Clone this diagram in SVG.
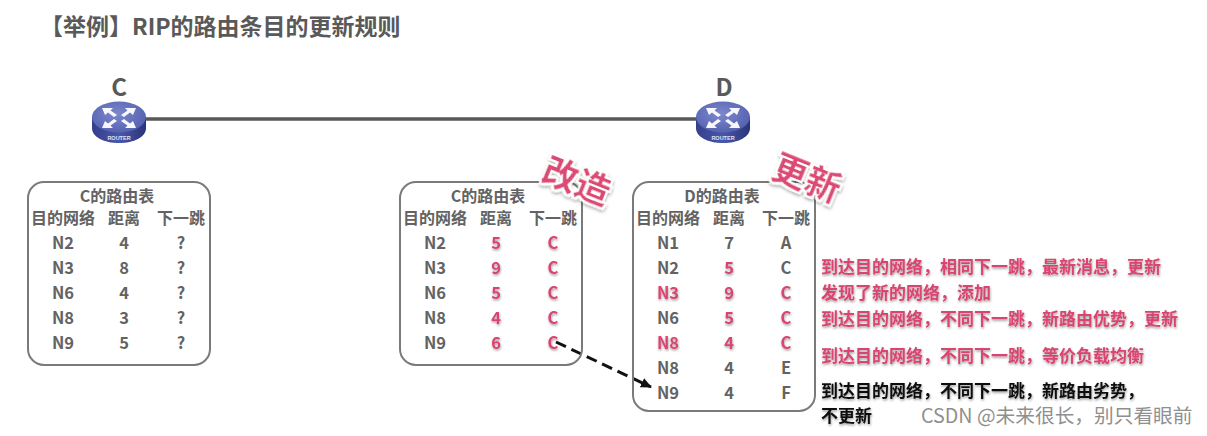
<svg xmlns="http://www.w3.org/2000/svg" width="1207" height="436" viewBox="0 0 1207 436">
<defs>
<style>
text{font-family:"Noto Sans CJK SC","Noto Sans",sans-serif;font-weight:700;text-anchor:middle}
.t{fill:#636363;font-size:16.500px}
.h{fill:#636363;font-size:16px}
.r{fill:#d9446f;font-size:16.500px;filter:url(#sh)}
.n{font-size:17px;text-anchor:start;fill:#d9446f;filter:url(#sh)}
.k{fill:#111;filter:url(#sh)}
.box{fill:none;stroke:#7a7a7a;stroke-width:2}
.big{fill:#dc4a76;font-size:35px;filter:url(#wsh)}
.lab{fill:#595959;font-size:24px}
.arw{fill:#fff;opacity:.95}
</style>
<filter id="sh" x="-10%" y="-30%" width="120%" height="170%"><feDropShadow dx="0.5" dy="1.5" stdDeviation="1" flood-color="#000" flood-opacity=".4"/></filter>
<filter id="wsh" x="-20%" y="-20%" width="140%" height="140%"><feMorphology in="SourceAlpha" operator="dilate" radius="2" result="d"/><feFlood flood-color="#fff"/><feComposite in2="d" operator="in" result="w"/><feDropShadow in="w" dx="1" dy="2" stdDeviation="1.5" flood-opacity=".3" result="s"/><feMerge><feMergeNode in="s"/><feMergeNode in="SourceGraphic"/></feMerge></filter>
<linearGradient id="side" x1="0" x2="1" y1="0" y2="0"><stop offset="0" stop-color="#343f8c"/><stop offset=".5" stop-color="#4a57a8"/><stop offset="1" stop-color="#2a3478"/></linearGradient>
<radialGradient id="top" cx=".45" cy=".4" r=".7"><stop offset="0" stop-color="#7d88cc"/><stop offset="1" stop-color="#4f5cac"/></radialGradient>
<marker id="ah" markerWidth="11" markerHeight="10" refX="10" refY="5" orient="auto" markerUnits="userSpaceOnUse" viewBox="0 0 11 10"><path d="M0 0L11 5L0 10z" fill="#111"/></marker>
<g id="router">
<path d="M-27-3V8C-27 17-15 23 0 23S27 17 27 8V-3z" fill="url(#side)"/>
<ellipse cx="0" cy="-3" rx="27" ry="15.500" fill="url(#top)"/>
<g class="arw">
<path d="M-17-12L-6-12L-8.500-9.500L-2-5L-5-3L-11-7.500L-14-5z"/>
<path d="M17-12L6-12L8.500-9.500L2-5L5-3L11-7.500L14-5z"/>
<path d="M-17 8L-6 8L-8.500 5.500L-2 1L-5-1L-11 3.500L-14 1z"/>
<path d="M17 8L6 8L8.500 5.500L2 1L5-1L11 3.500L14 1z"/>
</g>
<text x="0" y="20" style="font-size:5.500px;fill:#dfe3ff;font-family:'Liberation Sans',sans-serif">ROUTER</text>
</g>
</defs>
<rect width="1207" height="436" fill="#fff"/>
<text x="40" y="35" style="font-size:23px;fill:#595959;text-anchor:start">【举例】RIP的路由条目的更新规则</text>

<g id="connectors">
<line x1="145" y1="119" x2="698" y2="119" stroke="#595959" stroke-width="3.500"/>
<line x1="556" y1="342" x2="651" y2="387" stroke="#111" stroke-width="3" stroke-dasharray="11 6" marker-end="url(#ah)"/>
</g>

<g id="router-c"><use href="#router" x="119" y="120"/><text class="lab" x="119" y="96">C</text></g>
<g id="router-d"><use href="#router" x="723" y="120"/><text class="lab" x="724" y="96">D</text></g>

<g id="table-c1">
<rect class="box" x="28" y="182" width="182" height="183" rx="16"/>
<text class="h" x="117" y="202">C的路由表</text>
<text class="h" x="63" y="224">目的网络</text><text class="h" x="124" y="224">距离</text><text class="h" x="181" y="224">下一跳</text>
<text class="t" x="63" y="249">N2</text><text class="t" x="124" y="249">4</text><text class="t" x="181" y="249">?</text>
<text class="t" x="63" y="274">N3</text><text class="t" x="124" y="274">8</text><text class="t" x="181" y="274">?</text>
<text class="t" x="63" y="299">N6</text><text class="t" x="124" y="299">4</text><text class="t" x="181" y="299">?</text>
<text class="t" x="63" y="324">N8</text><text class="t" x="124" y="324">3</text><text class="t" x="181" y="324">?</text>
<text class="t" x="63" y="349">N9</text><text class="t" x="124" y="349">5</text><text class="t" x="181" y="349">?</text>
</g>

<g id="table-c2">
<rect class="box" x="400" y="182" width="182" height="183" rx="16"/>
<text class="h" x="488" y="202">C的路由表</text>
<text class="h" x="435" y="224">目的网络</text><text class="h" x="496" y="224">距离</text><text class="h" x="553" y="224">下一跳</text>
<text class="t" x="435" y="249">N2</text><text class="r" x="496" y="249">5</text><text class="r" x="553" y="249">C</text>
<text class="t" x="435" y="274">N3</text><text class="r" x="496" y="274">9</text><text class="r" x="553" y="274">C</text>
<text class="t" x="435" y="299">N6</text><text class="r" x="496" y="299">5</text><text class="r" x="553" y="299">C</text>
<text class="t" x="435" y="324">N8</text><text class="r" x="496" y="324">4</text><text class="r" x="553" y="324">C</text>
<text class="t" x="435" y="349">N9</text><text class="r" x="496" y="349">6</text><text class="r" x="553" y="349">C</text>
</g>

<g id="table-d">
<rect class="box" x="633" y="182" width="182" height="229" rx="16"/>
<text class="h" x="722" y="202">D的路由表</text>
<text class="h" x="668" y="224">目的网络</text><text class="h" x="729" y="224">距离</text><text class="h" x="786" y="224">下一跳</text>
<text class="t" x="668" y="249">N1</text><text class="t" x="729" y="249">7</text><text class="t" x="786" y="249">A</text>
<text class="t" x="668" y="274">N2</text><text class="r" x="729" y="274">5</text><text class="t" x="786" y="274">C</text>
<text class="r" x="668" y="299">N3</text><text class="r" x="729" y="299">9</text><text class="r" x="786" y="299">C</text>
<text class="t" x="668" y="324">N6</text><text class="r" x="729" y="324">5</text><text class="r" x="786" y="324">C</text>
<text class="r" x="668" y="349">N8</text><text class="r" x="729" y="349">4</text><text class="r" x="786" y="349">C</text>
<text class="t" x="668" y="374">N8</text><text class="t" x="729" y="374">4</text><text class="t" x="786" y="374">E</text>
<text class="t" x="668" y="399">N9</text><text class="t" x="729" y="399">4</text><text class="t" x="786" y="399">F</text>
</g>

<g id="stamp-gaizao"><text class="big" transform="translate(572 193) rotate(22)">改造</text></g>
<g id="stamp-gengxin"><text class="big" transform="translate(802 190) rotate(22)">更新</text></g>

<g id="notes">
<text class="n" x="821" y="273">到达目的网络，相同下一跳，最新消息，更新</text>
<text class="n" x="821" y="299">发现了新的网络，添加</text>
<text class="n" x="821" y="325">到达目的网络，不同下一跳，新路由优势，更新</text>
<text class="n" x="821" y="362">到达目的网络，不同下一跳，等价负载均衡</text>
<text class="n k" x="821" y="397">到达目的网络，不同下一跳，新路由劣势，</text>
<text class="n k" x="821" y="422">不更新</text>
</g>
<text x="921" y="423" style="font-weight:400;font-size:19.700px;fill:#8f8f8f;text-anchor:start">CSDN @未来很长，别只看眼前</text>
</svg>
